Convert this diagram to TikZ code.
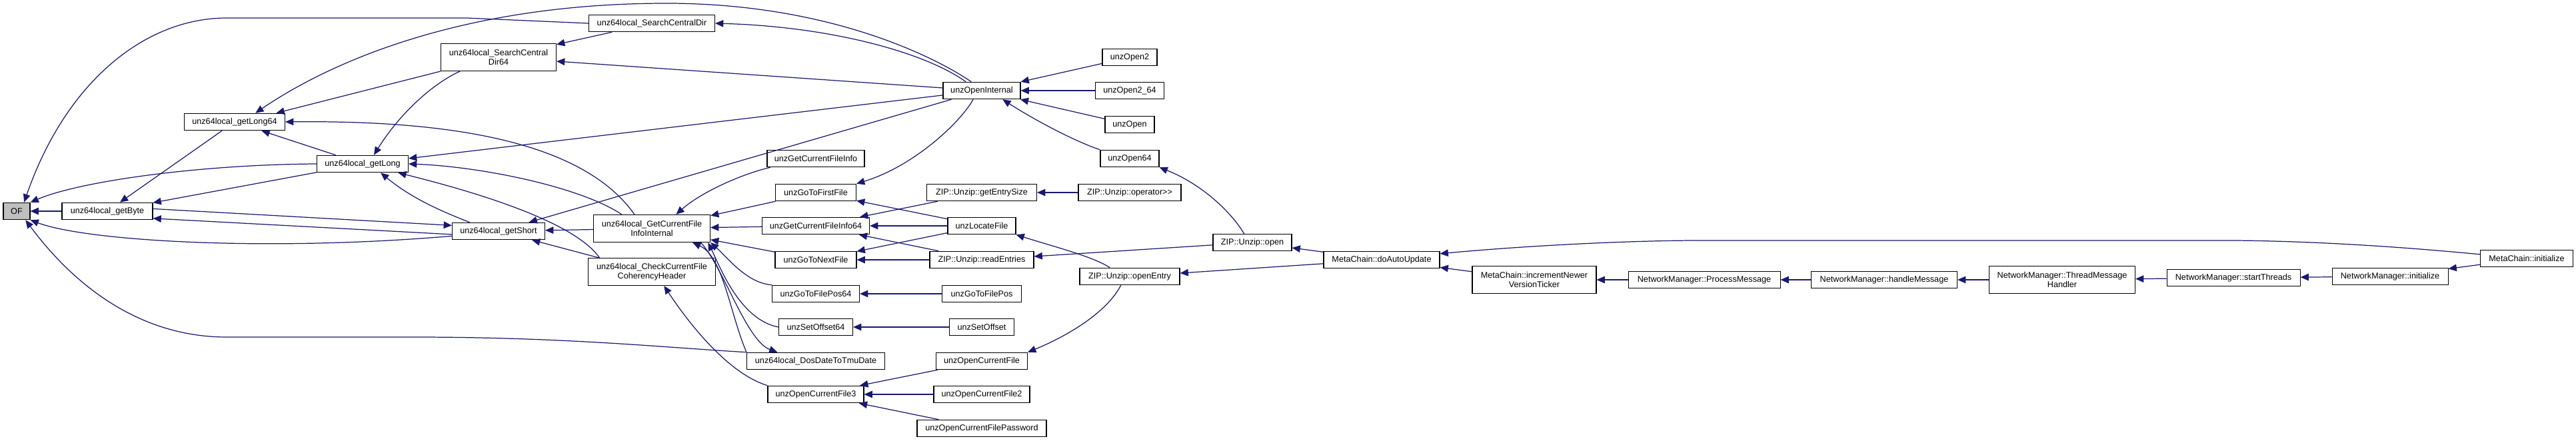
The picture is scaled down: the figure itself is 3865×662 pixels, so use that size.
\documentclass[tikz,border=0pt]{standalone}
\usepackage{fontspec}
\setmainfont{Liberation Sans}
\usetikzlibrary{arrows.meta}
\definecolor{edgeblue}{HTML}{191970}
\definecolor{rootgray}{HTML}{BFBFBF}

\begin{document}
\begin{tikzpicture}[
    x=0.02cm, y=-0.02cm,
    font=\fontsize{7.2}{7.7}\selectfont,
    box/.style={draw=black, fill=white, line width=0.6pt, minimum width=#1*0.02cm, minimum height=0.51cm, inner xsep=0.12cm, inner ysep=0.5pt, align=center},
    box2/.style={box=#1, minimum height=0.82cm},
    root/.style={box=#1, fill=rootgray},
    arr/.style={{Triangle[length=7pt, width=6pt]}-, line width=0.7pt, color=edgeblue},
]
\useasboundingbox (0,0) rectangle (3865,662);

% column 0-3: local helpers
\node[root=40] (of) at (25,317) {OF};
\node[box=136] (getbyte) at (161,317) {unz64local\_getByte};
\node[box=151] (getlong64) at (352,183) {unz64local\_getLong64};
\node[box=137] (getlong) at (544,246) {unz64local\_getLong};
\node[box=139] (getshort) at (748,347) {unz64local\_getShort};
\node[box2=173] (scd64) at (748,86) {unz64local\_SearchCentral\\Dir64};
\node[box=189] (scd) at (978,35) {unz64local\_SearchCentralDir};
\node[box2=175] (gcfii) at (978,343) {unz64local\_GetCurrentFile\\InfoInternal};
\node[box2=191] (check) at (978,408) {unz64local\_CheckCurrentFile\\CoherencyHeader};

% column 4: unz api
\node[box=146] (gcfi) at (1224,238) {unzGetCurrentFileInfo};
\node[box=121] (gotofirst) at (1224,289) {unzGoToFirstFile};
\node[box=161] (gcfi64) at (1224,339) {unzGetCurrentFileInfo64};
\node[box=122] (gotonext) at (1224,390) {unzGoToNextFile};
\node[box=131] (gotopos64) at (1224,441) {unzGoToFilePos64};
\node[box=111] (setoff64) at (1224,491) {unzSetOffset64};
\node[box=207] (dosdate) at (1224,542) {unz64local\_DosDateToTmuDate};
\node[box=144] (ocf3) at (1224,592) {unzOpenCurrentFile3};

% column 5
\node[box=116] (openint) at (1473,136) {unzOpenInternal};
\node[box=165] (entrysize) at (1473,289) {ZIP::Unzip::getEntrySize};
\node[box=102] (locate) at (1473,339) {unzLocateFile};
\node[box=156] (readent) at (1473,390) {ZIP::Unzip::readEntries};
\node[box=119] (gotopos) at (1473,441) {unzGoToFilePos};
\node[box=97] (setoff) at (1473,491) {unzSetOffset};
\node[box=137] (ocf) at (1473,542) {unzOpenCurrentFile};
\node[box=144] (ocf2) at (1473,592) {unzOpenCurrentFile2};
\node[box=194] (ocfpw) at (1473,643) {unzOpenCurrentFilePassword};

% column 6-7
\node[box=82] (open2) at (1695,86) {unzOpen2};
\node[box=103] (open264) at (1695,136) {unzOpen2\_64};
\node[box=74] (unzopen) at (1695,187) {unzOpen};
\node[box=88] (open64) at (1695,238) {unzOpen64};
\node[box=154] (oper) at (1695,289) {ZIP::Unzip::operator>{}>};
\node[box=150] (openentry) at (1695,415) {ZIP::Unzip::openEntry};
\node[box=118] (zopen) at (1879,364) {ZIP::Unzip::open};

% MetaChain / NetworkManager chain
\node[box=174] (autoupd) at (2073,390) {MetaChain::doAutoUpdate};
\node[box2=186] (incver) at (2302,420) {MetaChain::incrementNewer\\VersionTicker};
\node[box=228] (procmsg) at (2557,420) {NetworkManager::ProcessMessage};
\node[box=219] (handlemsg) at (2827,420) {NetworkManager::handleMessage};
\node[box2=219] (threadmsg) at (3094,420) {NetworkManager::ThreadMessage\\Handler};
\node[box=200] (startthr) at (3351,417) {NetworkManager::startThreads};
\node[box=174] (nminit) at (3586,415) {NetworkManager::initialize};
\node[box=139] (mcinit) at (3791,388) {MetaChain::initialize};

% into OF
\draw[arr] (of) -- (getbyte);
\draw[arr] (of.north east) .. controls (120,272) and (300,247) .. (getlong.west);
\draw[arr] (of.south east) .. controls (130,362) and (400,378) .. (getshort.186);
\draw[arr] (of.50) .. controls (100,120) and (220,27) .. (340,27) -- (700,27) -- (scd.west);
\draw[arr] (of.-45) .. controls (120,440) and (220,506) .. (340,506) -- (620,506) .. controls (850,506) and (1000,522) .. (dosdate.north west);

% into getByte / getShort
\draw[arr] (getbyte) -- (getlong64);
\draw[arr] (getbyte) -- (getlong);
\draw[arr] (getbyte.-9) -- (getshort.184);
\draw[arr] (getshort.173) -- (getbyte.3);

% into getLong64
\draw[arr] (getlong64.23) .. controls (500,90) and (700,5) .. (1000,5) .. controls (1250,5) and (1410,90) .. (openint.140);
\draw[arr] (getlong64.12) -- (scd64.south west);
\draw[arr] (getlong64) -- (getlong);
\draw[arr] (getlong64.east) .. controls (700,180) and (880,220) .. (gcfii.141);

% into getLong
\draw[arr] (getlong.38) .. controls (600,170) and (650,125) .. (scd64.200);
\draw[arr] (getlong) -- (openint);
\draw[arr] (getlong.east) .. controls (720,250) and (870,280) .. (gcfii.155);
\draw[arr] (getlong.-14) .. controls (700,285) and (860,330) .. (check.165);
\draw[arr] (getlong.-26) .. controls (620,300) and (670,320) .. (getshort.163);

% into getShort
\draw[arr] (getshort) -- (openint);
\draw[arr] (getshort) -- (gcfii);
\draw[arr] (getshort) -- (check);

% search central dir
\draw[arr] (scd64) -- (scd);
\draw[arr] (scd64) -- (openint);
\draw[arr] (scd.east) .. controls (1250,40) and (1390,80) .. (openint.151);

% into GetCurrentFileInfoInternal
\draw[arr] (gcfii.30) .. controls (1050,290) and (1110,262) .. (gcfi.191);
\draw[arr] (gcfii) -- (gotofirst);
\draw[arr] (gcfii) -- (gcfi64);
\draw[arr] (gcfii) -- (gotonext);
\draw[arr] (gcfii.south east) .. controls (1090,385) and (1120,425) .. (gotopos64.north west);
\draw[arr] (gcfii.-14) .. controls (1080,400) and (1110,480) .. (setoff64.west);
\draw[arr] (gcfii.-19) .. controls (1085,385) and (1095,470) .. (dosdate.north west);
\draw[arr] (dosdate.167) .. controls (1120,512) and (1085,400) .. (gcfii.-16);
\draw[arr] (check.-49) .. controls (1030,480) and (1090,560) .. (ocf3.north west);

% unz api callers
\draw[arr] (gotofirst.north east) .. controls (1370,250) and (1440,185) .. (openint.226);
\draw[arr] (gotofirst) -- (locate);
\draw[arr] (gcfi64) -- (entrysize);
\draw[arr] (gcfi64) -- (locate);
\draw[arr] (gcfi64) -- (readent);
\draw[arr] (gotonext) -- (locate);
\draw[arr] (gotonext) -- (readent);
\draw[arr] (gotopos64) -- (gotopos);
\draw[arr] (setoff64) -- (setoff);
\draw[arr] (ocf3) -- (ocf);
\draw[arr] (ocf3) -- (ocf2);
\draw[arr] (ocf3) -- (ocfpw);

% open functions and ZIP::Unzip
\draw[arr] (openint) -- (open2);
\draw[arr] (openint) -- (open264);
\draw[arr] (openint) -- (unzopen);
\draw[arr] (openint.-23) .. controls (1560,185) and (1620,215) .. (open64.north west);
\draw[arr] (entrysize) -- (oper);
\draw[arr] (locate.south east) .. controls (1580,370) and (1640,385) .. (openentry.156);
\draw[arr] (readent) -- (zopen);
\draw[arr] (ocf.north east) .. controls (1600,505) and (1660,470) .. (openentry.225);
\draw[arr] (open64.south east) .. controls (1800,275) and (1845,315) .. (zopen.133);
\draw[arr] (zopen) -- (autoupd);
\draw[arr] (openentry) -- (autoupd);

% MetaChain / NetworkManager
\draw[arr] (autoupd.6) .. controls (2300,368) and (2450,361) .. (2550,361) -- (3350,361) .. controls (3500,362) and (3650,375) .. (mcinit.175);
\draw[arr] (autoupd) -- (incver);
\draw[arr] (incver) -- (procmsg);
\draw[arr] (procmsg) -- (handlemsg);
\draw[arr] (handlemsg) -- (threadmsg);
\draw[arr] (threadmsg) -- (startthr);
\draw[arr] (startthr) -- (nminit);
\draw[arr] (nminit) -- (mcinit);
\end{tikzpicture}
\end{document}
